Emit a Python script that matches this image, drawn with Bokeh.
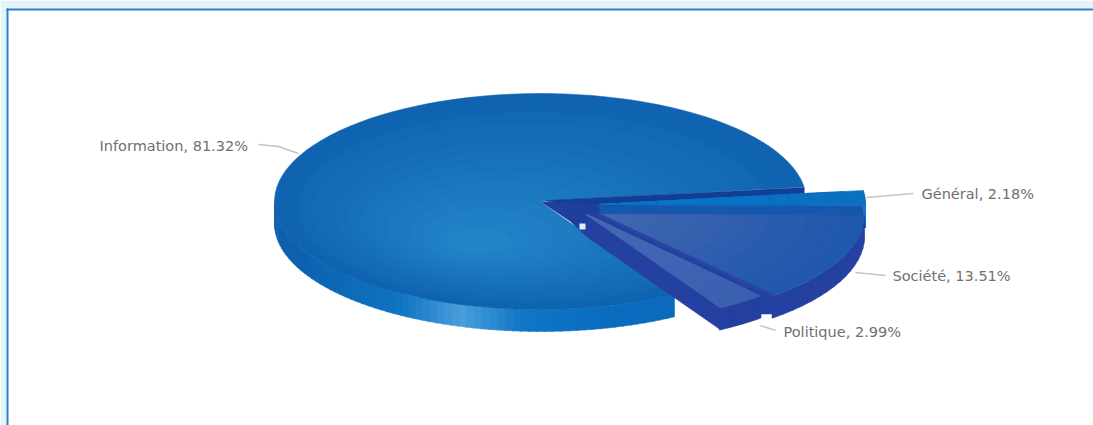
import numpy as np
from bokeh.plotting import figure
from bokeh.models import Range1d
from bokeh.embed import file_html
from bokeh.resources import INLINE

categories = ["Général", "Société", "Politique", "Information"]
values = [2.18, 13.51, 2.99, 81.32]

CX, CY, RX, RY, DEPTH = 540, 201, 266, 108, 22
START = -7.5
offsets = {"Général": (59, 3), "Société": (58, 13), "Politique": (46, 13)}
label_pos = {"Information": (99, 145), "Général": (921, 193), "Société": (892, 275), "Politique": (783, 331)}
leaders = {"Information": ([258, 278, 298], [144, 146, 153]), "Général": ([866, 913], [197, 193]),
           "Société": ([855, 885], [272, 275]), "Politique": ([760, 775], [325, 330])}

W, H = 1093, 425
p = figure(width=W, height=H, output_backend="svg", toolbar_location=None,
           x_range=Range1d(0, W), y_range=Range1d(H, 0), min_border=0,
           outline_line_color=None,
           background_fill_color="white", border_fill_color="white")
p.axis.visible = False
p.grid.visible = False


def hex2(c):
    return np.array([int(c[i:i + 2], 16) for i in (1, 3, 5)], float)


def mix(a, b, t):
    v = hex2(a) * (1 - t) + hex2(b) * t
    return "#%02x%02x%02x" % tuple(int(round(x)) for x in v)


def arc(a0, a1, cx=CX, cy=CY, s=1.0, n=60):
    t = np.radians(np.linspace(a0, a1, n))
    return cx + s * RX * np.cos(t), cy + s * RY * np.sin(t)


def fill(x, y, c):
    p.patch(list(x), list(y), fill_color=c, line_color=c, line_width=0.5)


def wedge_top(a0, a1, ox, oy, c_edge, c_mid, steps=14):
    cx, cy = CX + ox, CY + oy
    for i in range(steps):
        s = 1 - i / steps
        x, y = arc(a0, a1, cx, cy, s)
        fill(np.r_[cx, x], np.r_[cy, y], mix(c_edge, c_mid, i / (steps - 1)))


def wall(a0, a1, ox, oy, colour_at, steps=40):
    edges = np.linspace(a0, a1, steps + 1)
    for a, b in zip(edges[:-1], edges[1:]):
        x, y = arc(a, b + 0.3, CX + ox, CY + oy, n=6)
        fill(np.r_[x, x[::-1]], np.r_[y, y[::-1] + DEPTH], colour_at(CX + ox + RX * np.cos(np.radians((a + b) / 2))))


angles = {}
a = START
for c, v in zip(categories, values):
    angles[c] = (a, a + v * 3.6)
    a += v * 3.6

i0, i1 = angles["Information"]
cut0, cut1 = START, i0


def main_wall(x):
    stops_x = [274, 300, 400, 460, 520, 600, 680]
    stops_c = ["#0f5fae", "#0c62b0", "#0f74c2", "#4a9fdc", "#1277c6", "#0a6cc0", "#0a6abc"]
    k = int(np.clip(np.searchsorted(stops_x, x) - 1, 0, len(stops_x) - 2))
    t = np.clip((x - stops_x[k]) / (stops_x[k + 1] - stops_x[k]), 0, 1)
    return mix(stops_c[k], stops_c[k + 1], t)


# page tint and the frame: only the top and left edges show in the reference
p.quad(left=[0, 0], right=[W, 6], top=[0, 8], bottom=[8, H], fill_color="#e3f4fb", line_color=None)
p.line([7, 7], [H, 8], line_color="#2a7dd0", line_width=2)
p.line([6, W], [9, 9], line_color="#2a7dd0", line_width=2)

# main slice: side wall, then the shaded top, then the opening left by the pulled-out slices
wall(i0, 180, 0, 0, main_wall, steps=70)
for i in range(16):
    s = 1 - i / 16
    fx, fy = CX + (-70) * (1 - s), CY + 45 * (1 - s)
    x, y = arc(0, 360, fx, fy, s, n=120)
    fill(x, y, mix("#0f63b0", "#2385c9", i / 15))
x, y = arc(cut0, cut1, s=1.01)
fill(np.r_[CX, x], np.r_[CY, y], "white")
xa, ya = arc(cut0, cut0, n=1)
fill([CX + 5, xa[0], xa[0], CX + 60], [CY - 1, ya[0], ya[0] + DEPTH, CY + 12], "#123f95")

# dark walls seen in the gaps around the slice tips
gx, gy = offsets["Général"]
px, py = offsets["Politique"]
sx, sy = offsets["Société"]
sa1 = angles["Société"][1]
xs, ys = arc(sa1, sa1, CX + sx, CY + sy, n=1)
xq, yq = arc(sa1, sa1, CX + px, CY + py, n=1)
fill([CX, CX + gx + 3, CX + sx + 3, CX + px, CX + 30],
     [CY, CY + gy, CY + sy + 4, CY + py + DEPTH, CY + 20], "#1f3f9c")

# pulled-out slices
styles = {"Politique": ("#3b60b0", "#4468b4", "#2440a0"),
          "Société": ("#1f58ad", "#4266b0", "#2440a0"),
          "Général": ("#0a70c0", "#0a74c4", "#1557ad")}
for c in ["Général", "Politique", "Société"]:
    ox, oy = offsets[c]
    a0, a1 = angles[c]
    e, m, w = styles[c]
    cx, cy = CX + ox, CY + oy
    x1, y1 = arc(a1, a1, cx, cy, n=1)
    if c == "Politique":
        # strip of dark wall between this slice and its neighbour
        fill([CX + sx, xs[0], xs[0], xq[0], CX + px], [CY + sy, ys[0], ys[0] + DEPTH - 4, yq[0] + DEPTH - 4, CY + py], "#2440a0")
    if c != "Société":
        fill([cx, x1[0], x1[0], cx], [cy, y1[0], y1[0] + DEPTH, cy + DEPTH], w)
    wall(max(a0, 0), a1, ox, oy, lambda _x, w=w: w, steps=16)
    if a0 < 0:
        x0, y0 = arc(a0, 0, cx, cy, n=10)
        fill(np.r_[x0, x0[::-1]], np.r_[y0, y0[::-1] + DEPTH], "#0f7fd0")
    wedge_top(a0, a1, ox, oy, e, m)

# thin dark seam between Société and Politique, small gap near the centre
p.line([CX + sx, xs[0]], [CY + sy, ys[0]], line_color="#2a459f", line_width=3)
p.scatter([582], [226], size=6, marker="square", fill_color="#dfeef8", line_color=None)

for c, v in zip(categories, values):
    lx, ly = leaders[c]
    p.line(lx, ly, line_color="#c4c4c4", line_width=1.5)
    tx, ty = label_pos[c]
    p.text([tx], [ty], text=[f"{c}, {v:.2f}%"], text_font_size="14.5px", text_color="#707070",
           text_font={"value": "DejaVu Sans"}, text_baseline="middle", text_align="left")

open("out.html", "w").write(file_html(p, INLINE))
